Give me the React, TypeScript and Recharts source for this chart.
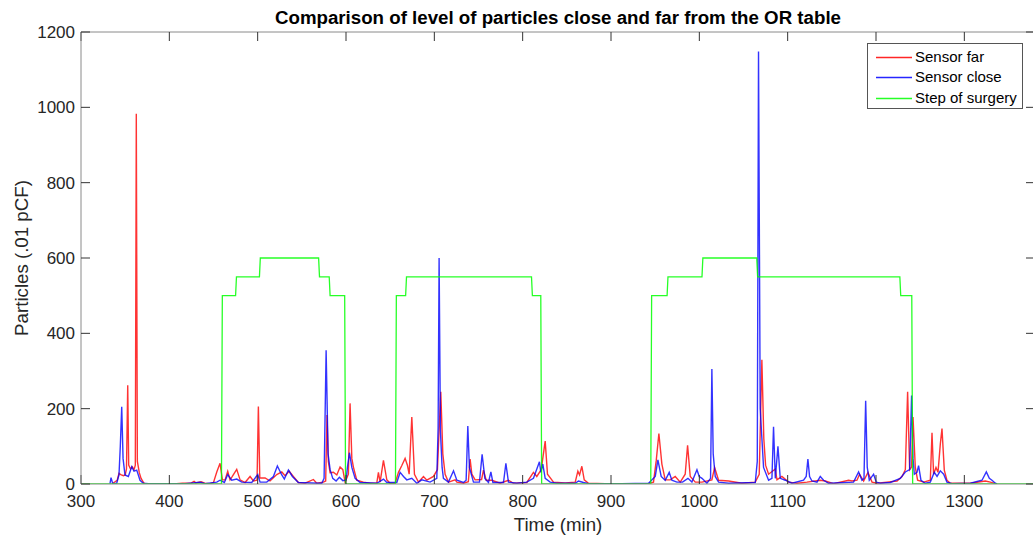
import React from 'react';
import { LineChart, Line, XAxis, YAxis, Legend } from 'recharts';

// ---- data ----
const xTicks = [300, 400, 500, 600, 700, 800, 900, 1000, 1100, 1200, 1300];
const yTicks = [0, 200, 400, 600, 800, 1000, 1200];

// Sensor far (red)
const farT = [
  336, 341, 343, 345, 348, 350, 351.5, 352.9, 354, 356, 358, 360, 361.5, 362.6, 363.8, 366, 368, 371, 373,
  400, 408, 415, 425, 428, 430, 436, 440, 446, 450,
  453.7, 457.4, 460.1, 463.1, 466.1, 468.7, 471.3, 476.3, 480.1, 485.7, 491.4, 495.2, 499.3, 500.8, 502.4,
  508.4, 514, 521.6, 527.3, 531, 535.6, 540.4, 546.1, 553.7, 563.1, 566.9, 574.4,
  577, 578.5, 580, 582, 585.8, 589.6, 593.3, 596.4, 599, 602.7, 604.6, 606.6, 608.4, 612.2, 619.7, 627.3,
  634.9, 636.7, 638.6, 642.4, 646.2, 649.9, 655.6, 659.4, 663.2, 666.9, 669.6, 671.5, 674.5, 677.5, 682,
  687.7, 691.5, 699, 703.5, 707.3, 709.6, 712.2, 716, 723.6, 725.5, 733, 738.5, 740.5, 742.5, 746.2,
  753.5, 755.6, 758.7, 765.1, 774.5, 783.9, 789.6, 804.7, 812.2, 816, 821, 825.5, 828.1, 834.9,
  848.1, 859.5, 862.5, 864.4, 867, 869.7, 874.5, 893.4, 942.5, 948.1, 951.2, 954.2, 957.6, 961.4, 967,
  972.7, 978.4, 984, 986.7, 989.7, 995.4, 1003, 1014.2, 1017.3, 1021.8, 1033.1, 1048.2, 1063.3, 1067.8,
  1070.8, 1073, 1075, 1078.4, 1086, 1087.9, 1093.5, 1101, 1110.5, 1121.8, 1136.9, 1142.6, 1152, 1169,
  1172.8, 1178.5, 1181.4, 1186, 1190.9, 1195.5, 1201.1, 1212.4, 1223.8, 1229.4, 1233.2, 1235.8, 1238.1,
  1240.3, 1241.9, 1244.5, 1247.1, 1253.9, 1261.5, 1263.4, 1265.2, 1267.9, 1270.2, 1272.8, 1274.7, 1277.3,
  1280.3, 1284.1, 1306.8, 1323.8, 1329.4, 1335.1, 1337,
];
const farV = [
  2, 10, 28, 25, 22, 24, 40, 262, 50, 40, 46, 38, 50, 983, 60, 30, 15, 3, 0,
  0, 1, 2, 3, 7, 3, 6, 2, 1, 4,
  32, 55, 11, 11, 34, 11, 20, 39, 11, 4, 20, 8, 10, 206, 16,
  16, 8, 25, 32, 22, 34, 20, 4, 2, 12, 2, 5,
  8, 183, 60, 30, 31, 24, 45, 38, 5, 26, 214, 68, 45, 10, 5, 2,
  3, 31, 5, 63, 11, 2, 2, 31, 49, 68, 49, 26, 178, 26, 5,
  20, 10, 20, 38, 245, 80, 26, 5, 11, 5, 2, 6, 66, 26, 11,
  12, 37, 10, 10, 2, 10, 2, 4, 31, 20, 38, 114, 26, 5,
  3, 5, 34, 24, 47, 11, 2, 1, 1, 5, 62, 134, 53, 11, 11,
  20, 5, 26, 103, 20, 5, 5, 11, 44, 10, 8, 2, 5, 26,
  330, 120, 50, 26, 40, 11, 20, 5, 2, 5, 10, 8, 1, 10,
  8, 10, 26, 8, 31, 5, 2, 5, 8, 20, 38, 245, 38,
  45, 178, 44, 10, 5, 10, 136, 26, 44, 31, 106, 147, 37,
  10, 2, 2, 8, 5, 1, 0,
];

// Sensor close (blue)
const closeT = [
  332.8, 334, 335.9, 340.4, 343, 344.5, 346.1, 347.6, 349.8, 353.6, 357.4, 360, 363.1, 366.8, 370.6, 376.2,
  417.8, 434.8, 440.4, 453.7, 457.4, 462.3, 466.1, 470.6, 476.3, 481.9, 493.3, 500.1, 502.7, 510.3, 517.8,
  522.3, 527.3, 530.2, 534.8, 539.3, 546.1, 568.8, 572.6, 575.2, 577.5, 579.7, 582, 585, 588.8, 592.5,
  596.4, 600.1, 601.6, 603.9, 606.6, 610.3, 616, 634.9, 642.4, 646.2, 657.5, 661.3, 665.1, 668.8, 674.5,
  680.2, 685.8, 695.2, 702.8, 704.3, 705.4, 706.9, 708.8, 710.3, 716, 721.7, 725.5, 733, 736, 737.9, 739.7,
  744.3, 751.1, 754.1, 757.2, 761.3, 764, 766.3, 778.3, 781, 783.9, 793.4, 804.7, 812.2, 815.3, 819, 820.6,
  822.8, 825.5, 831.1, 838.7, 859.5, 863.2, 868.9, 874.5, 912.3, 942.5, 950.1, 953.1, 956.8, 961.4, 965.9,
  968.9, 974.6, 981, 987.1, 991.6, 997.3, 999.9, 1003, 1008.6, 1012.7, 1014.2, 1015.7, 1018, 1021.8, 1033.1,
  1063.3, 1065.6, 1067, 1068.9, 1072.7, 1078.4, 1082.2, 1084, 1086, 1089, 1091.6, 1097.3, 1104.9, 1118,
  1121, 1122.9, 1124.8, 1127.5, 1133.2, 1136.9, 1140.7, 1146.3, 1174.6, 1180.3, 1184.1, 1186.4, 1188.3,
  1190.1, 1192.4, 1197.3, 1200.3, 1204.9, 1216.2, 1227.5, 1233.2, 1238.1, 1240.3, 1241.9, 1243.4, 1246.4,
  1248.2, 1250.9, 1255.8, 1261.5, 1266, 1269.1, 1272.8, 1276.6, 1280.3, 1286, 1306.8, 1320, 1324.9, 1328.3,
  1331.3, 1335.1, 1337,
];
const closeV = [
  1, 17, 1, 2, 24, 100, 205, 68, 24, 20, 46, 34, 37, 10, 2, 1,
  1, 5, 1, 5, 10, 4, 25, 10, 13, 5, 4, 25, 5, 5, 20,
  48, 24, 13, 37, 20, 4, 2, 2, 15, 355, 80, 38, 15, 8, 18,
  9, 11, 44, 83, 44, 15, 4, 2, 13, 4, 4, 31, 20, 11, 15,
  2, 11, 5, 15, 150, 600, 140, 44, 15, 5, 35, 10, 4, 10, 154, 44,
  5, 5, 79, 15, 4, 32, 4, 4, 55, 5, 2, 5, 15, 35, 59, 31,
  53, 15, 5, 2, 2, 8, 4, 1, 1, 2, 20, 64, 20, 10, 31,
  10, 5, 5, 15, 5, 38, 20, 15, 2, 15, 305, 80, 20, 5, 2,
  4, 60, 1148, 200, 44, 10, 15, 152, 15, 100, 15, 10, 2, 10,
  20, 66, 20, 8, 5, 20, 10, 2, 5, 32, 10, 15, 221,
  44, 10, 26, 5, 2, 4, 15, 32, 38, 235, 68, 26, 31,
  49, 10, 2, 5, 31, 20, 35, 26, 5, 1, 2, 10, 32, 15,
  10, 2, 0,
];

// Step of surgery (green)
const stepT = [
  300, 459, 460, 475, 476, 502, 503, 569, 570, 581, 582, 598.5, 599.5,
  656, 657, 667.5, 668.5, 810, 811, 820.5, 821.5,
  945, 946, 963.5, 964.5, 1003, 1004, 1065, 1066, 1227, 1228, 1240.5, 1241.5, 1380,
];
const stepV = [
  0, 0, 500, 500, 550, 550, 600, 600, 550, 550, 500, 500, 0,
  0, 500, 500, 550, 550, 500, 500, 0,
  0, 500, 500, 550, 550, 600, 600, 550, 550, 500, 500, 0, 0,
];

const seriesNames = ['Sensor far', 'Sensor close', 'Step of surgery'];
const seriesColors = ['#ff0000', '#0000ff', '#00ff00'];

const farData = farT.map((t, i) => ({ t, v: farV[i] }));
const closeData = closeT.map((t, i) => ({ t, v: closeV[i] }));
const stepData = stepT.map((t, i) => ({ t, v: stepV[i] }));

const FONT = '"Liberation Sans", Arial, Helvetica, sans-serif';
const TEXT = '#262626';

const renderLegend = () => (
  <div
    style={{
      width: 154,
      height: 64,
      border: '1px solid #555',
      background: '#fff',
      position: 'relative',
      fontFamily: FONT,
      fontSize: 15,
      color: '#000',
    }}
  >
    {seriesNames.map((name, i) => (
      <div key={name} style={{ position: 'absolute', left: 0, top: 3 + i * 20.3, height: 20, width: 154 }}>
        <svg width={40} height={20} style={{ position: 'absolute', left: 8, top: 0 }}>
          <line x1={0} y1={10.5} x2={36} y2={10.5} stroke={seriesColors[i]} strokeWidth={1.3} strokeOpacity={0.85} />
        </svg>
        <span style={{ position: 'absolute', left: 47, top: 1, lineHeight: '18px', whiteSpace: 'nowrap' }}>{name}</span>
      </div>
    ))}
  </div>
);

export default function App() {
  return (
    <div style={{ position: 'absolute', left: 0, top: 0, width: 1033, height: 538, overflow: 'hidden', background: '#fff' }}>
      <LineChart width={1060} height={538} margin={{ top: 31, right: 24, bottom: 0, left: 0 }}>
        <XAxis
          xAxisId="bottom"
          dataKey="t"
          type="number"
          orientation="bottom"
          domain={[300, 1380]}
          ticks={xTicks}
          allowDataOverflow
          height={54}
          axisLine={{ stroke: '#8a8a8a' }}
          tickLine={{ stroke: '#333' }}
          tickSize={-9}
          tickMargin={20}
          tick={{ fill: TEXT, fontSize: 17, fontFamily: FONT }}
          label={() => (
            <text x={558} y={531} textAnchor="middle" fill={TEXT} fontSize={18.7} fontFamily={FONT}>
              Time (min)
            </text>
          )}
        />
        <XAxis
          xAxisId="top"
          dataKey="t"
          type="number"
          orientation="top"
          domain={[300, 1380]}
          ticks={xTicks}
          allowDataOverflow
          height={1}
          axisLine={{ stroke: '#8a8a8a' }}
          tickLine={{ stroke: '#333' }}
          tickSize={-9}
          tick={() => null}
          label={() => (
            <text x={558} y={24} textAnchor="middle" fill="#000" fontSize={18.7} fontWeight="bold" fontFamily={FONT}>
              Comparison of level of particles close and far from the OR table
            </text>
          )}
        />
        <YAxis
          yAxisId="left"
          type="number"
          orientation="left"
          domain={[0, 1200]}
          ticks={yTicks}
          allowDataOverflow
          width={81}
          axisLine={{ stroke: '#8a8a8a' }}
          tickLine={{ stroke: '#333' }}
          tickSize={-9}
          tickMargin={15}
          tick={{ fill: TEXT, fontSize: 17, fontFamily: FONT }}
          label={() => (
            <text
              x={28}
              y={258}
              transform="rotate(-90 28 258)"
              textAnchor="middle"
              fill={TEXT}
              fontSize={18.7}
              fontFamily={FONT}
            >
              Particles (.01 pCF)
            </text>
          )}
        />
        <YAxis
          yAxisId="right"
          type="number"
          orientation="right"
          domain={[0, 1200]}
          ticks={yTicks}
          allowDataOverflow
          width={1}
          axisLine={{ stroke: '#8a8a8a' }}
          tickLine={{ stroke: '#333' }}
          tickSize={-9}
          tick={() => null}
        />
        <Legend
          layout="vertical"
          align="center"
          verticalAlign="middle"
          content={renderLegend}
          wrapperStyle={{ left: 867, top: 43, width: 156, height: 66 }}
        />
        <Line
          data={farData}
          dataKey="v"
          name={seriesNames[0]}
          xAxisId="bottom"
          yAxisId="left"
          type="linear"
          stroke={seriesColors[0]}
          strokeWidth={1.4}
          strokeOpacity={0.8}
          dot={false}
          activeDot={false}
          isAnimationActive={false}
        />
        <Line
          data={closeData}
          dataKey="v"
          name={seriesNames[1]}
          xAxisId="bottom"
          yAxisId="left"
          type="linear"
          stroke={seriesColors[1]}
          strokeWidth={1.4}
          strokeOpacity={0.8}
          dot={false}
          activeDot={false}
          isAnimationActive={false}
        />
        <Line
          data={stepData}
          dataKey="v"
          name={seriesNames[2]}
          xAxisId="bottom"
          yAxisId="left"
          type="linear"
          stroke={seriesColors[2]}
          strokeWidth={1.3}
          strokeOpacity={0.85}
          dot={false}
          activeDot={false}
          isAnimationActive={false}
        />
      </LineChart>
    </div>
  );
}
